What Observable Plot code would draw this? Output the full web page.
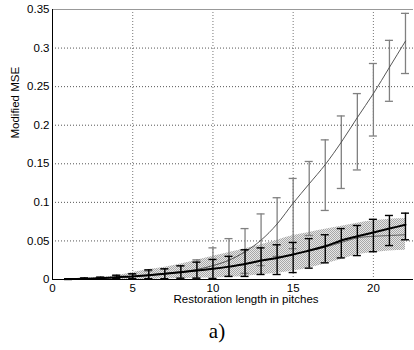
<!DOCTYPE html>
<html>
<head>
<meta charset="utf-8">
<script src="https://cdn.jsdelivr.net/npm/d3@7"></script>
<script src="https://cdn.jsdelivr.net/npm/@observablehq/plot@0.6"></script>
<style>
  body { margin: 0; background: #fff; }
  #wrap { position: relative; width: 414px; height: 350px; overflow: hidden; }
  #cap { position: absolute; top: 318px; left: 217px; transform: translateX(-50%);
         font-family: "Liberation Serif", "DejaVu Serif", serif; font-size: 21px; line-height: 26px; color: #000; }
</style>
</head>
<body>
<div id="wrap"><div id="chart"></div><div id="cap">a)</div></div>
<script>
// ---- data ----
const lengths = [1,2,3,4,5,6,7,8,9,10,11,12,13,14,15,16,17,18,19,20,21,22];

// thin steep series (mean, lower/upper error bar ends)
const thinMean  = [0.0005,0.001,0.002,0.003,0.004,0.006,0.008,0.010,0.013,0.018,0.025,0.036,0.051,0.072,0.099,0.124,0.149,0.178,0.210,0.241,0.275,0.309];
const thinLower = [0.0002,0.0004,0.0008,0.001,0.001,0.001,0.001,0.0015,0.002,0.002,0.004,0.008,0.018,0.030,0.040,0.057,0.0895,0.118,0.142,0.186,0.231,0.267];
const thinUpper = [0.0009,0.0018,0.003,0.005,0.007,0.011,0.014,0.018,0.0255,0.041,0.053,0.066,0.085,0.106,0.131,0.153,0.181,0.212,0.241,0.280,0.310,0.345];

// thick series (mean, lower/upper error bar ends)
const thickMean  = [0.0005,0.001,0.0017,0.003,0.004,0.0056,0.0074,0.0095,0.0117,0.0139,0.0167,0.020,0.0245,0.028,0.0324,0.0376,0.043,0.0506,0.056,0.061,0.066,0.071];
const thickLower = [0,0.0003,0.0005,0.001,0.001,0.001,0.001,0.0017,0.0017,0.001,0.004,0.004,0.0065,0.0065,0.009,0.0147,0.0216,0.028,0.031,0.036,0.044,0.0515];
const thickUpper = [0.001,0.002,0.003,0.0056,0.0074,0.0125,0.0138,0.0177,0.0225,0.026,0.030,0.0385,0.041,0.045,0.048,0.053,0.058,0.066,0.070,0.078,0.083,0.086];

// hatched band (centre, lower, upper)
const bandMid   = [0.0005,0.001,0.0015,0.0028,0.0038,0.0054,0.0072,0.0092,0.0114,0.0136,0.0165,0.0198,0.024,0.0278,0.0322,0.037,0.042,0.048,0.054,0.056,0.057,0.058];
const bandLower = [0,0,0,0,0,0,0.001,0.001,0.002,0.002,0.003,0.004,0.006,0.008,0.011,0.015,0.020,0.026,0.032,0.035,0.037,0.038];
const bandUpper = [0.001,0.002,0.003,0.005,0.009,0.013,0.016,0.020,0.025,0.030,0.035,0.040,0.045,0.051,0.057,0.061,0.065,0.069,0.073,0.076,0.078,0.079];

const xTicks = [0,5,10,15,20];
const xTickLabels = ["0","5","10","15","20"];
const yTicks = [0,0.05,0.1,0.15,0.2,0.25,0.3,0.35];
const yTickLabels = ["0","0.05","0.1","0.15","0.2","0.25","0.3","0.35"];
const xLabel = "Restoration length in pitches";
const yLabel = "Modified MSE";

// ---- table built from the arrays ----
const rows = lengths.map((x, i) => ({
  x,
  tm: thinMean[i], tl: thinLower[i], tu: thinUpper[i],
  km: thickMean[i], kl: thickLower[i], ku: thickUpper[i],
  bm: bandMid[i], bl: bandLower[i], bu: bandUpper[i]
}));
const capHalf = 0.25; // half width of error-bar caps, in x units

const chart = Plot.plot({
  width: 414,
  height: 310,
  marginLeft: 52,
  marginRight: 1,
  marginTop: 9,
  marginBottom: 31,
  style: { fontFamily: "'Liberation Sans', Arial, sans-serif", fontSize: "11.5px", color: "#000", background: "#fff" },
  x: { domain: [0, 22.5] },
  y: { domain: [0, 0.35] },
  marks: [
    Plot.gridX(xTicks.slice(1), { stroke: "#777", strokeOpacity: 1, strokeDasharray: "1,2" }),
    Plot.gridY(yTicks.slice(1, -1), { stroke: "#555", strokeOpacity: 1, strokeDasharray: "1,2" }),
    Plot.areaY(rows, { x: "x", y1: "bl", y2: "bu", fill: "url(#hatch)", curve: "monotone-x" }),
    Plot.line(rows, { x: "x", y: "bm", stroke: "#555", strokeWidth: 0.9, curve: "monotone-x" }),
    // thin series error bars
    Plot.ruleX(rows, { x: "x", y1: "tl", y2: "tu", stroke: "#808080", strokeWidth: 1.3 }),
    Plot.ruleY(rows, { y: "tu", x1: d => d.x - capHalf, x2: d => d.x + capHalf, stroke: "#808080", strokeWidth: 1.3 }),
    Plot.ruleY(rows, { y: "tl", x1: d => d.x - capHalf, x2: d => d.x + capHalf, stroke: "#808080", strokeWidth: 1.3 }),
    Plot.line(rows, { x: "x", y: "tm", stroke: "#444", strokeWidth: 0.9, curve: "monotone-x" }),
    // thick series error bars
    Plot.ruleX(rows, { x: "x", y1: "kl", y2: "ku", stroke: "#000", strokeWidth: 1.4 }),
    Plot.ruleY(rows, { y: "ku", x1: d => d.x - capHalf, x2: d => d.x + capHalf, stroke: "#000", strokeWidth: 1.4 }),
    Plot.ruleY(rows, { y: "kl", x1: d => d.x - capHalf, x2: d => d.x + capHalf, stroke: "#000", strokeWidth: 1.4 }),
    Plot.line(rows, { x: "x", y: "km", stroke: "#000", strokeWidth: 2, curve: "monotone-x" }),
    // axes
    Plot.ruleY([0.35], { stroke: "#999", strokeWidth: 1.2 }),
    Plot.ruleY([0], { stroke: "#000", strokeWidth: 1 }),
    Plot.ruleX([0], { stroke: "#000", strokeWidth: 1 }),
    Plot.axisX({ ticks: xTicks, tickFormat: (d, i) => xTickLabels[i], tickSize: 0, tickPadding: 4, label: null, fontSize: 11.5 }),
    Plot.axisY({ ticks: yTicks, tickFormat: (d, i) => yTickLabels[i], tickSize: 0, tickPadding: 3, label: null, fontSize: 11.5 }),
    Plot.text([xLabel], { frameAnchor: "bottom", dx: 13, dy: 23, fontSize: 11.5, fill: "#000" }),
    Plot.text([yLabel], { frameAnchor: "left", rotate: -90, dx: -37, dy: -6, fontSize: 11.5, fill: "#000" })
  ]
});

// hatch pattern for the band
const ns = "http://www.w3.org/2000/svg";
const defs = document.createElementNS(ns, "defs");
const pat = document.createElementNS(ns, "pattern");
pat.setAttribute("id", "hatch");
pat.setAttribute("patternUnits", "userSpaceOnUse");
pat.setAttribute("width", "2");
pat.setAttribute("height", "2");
const bg = document.createElementNS(ns, "rect");
bg.setAttribute("width", "2"); bg.setAttribute("height", "2"); bg.setAttribute("fill", "#e6e6e6");
pat.appendChild(bg);
for (const [px, py] of [[0, 0], [1, 1]]) {
  const r = document.createElementNS(ns, "rect");
  r.setAttribute("x", px); r.setAttribute("y", py);
  r.setAttribute("width", "1"); r.setAttribute("height", "1");
  r.setAttribute("fill", "#a8a8a8");
  pat.appendChild(r);
}
defs.appendChild(pat);
chart.insertBefore(defs, chart.firstChild);

document.getElementById("chart").appendChild(chart);
</script>
</body>
</html>
